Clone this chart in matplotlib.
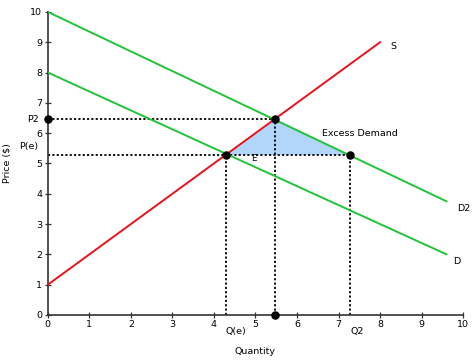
import matplotlib.pyplot as plt

# curve endpoints (quantity, price)
supply_q = [0, 8.0]
supply_p = [1.0, 9.0]
demand_q = [0, 9.6]
demand_p = [8.0, 2.0]
demand2_q = [0, 9.6]
demand2_p = [10.0, 3.75]

# key points
q_e, p_e = 4.3, 5.28
q_new, p_new = 5.48, 6.46
q2 = 7.28

x_ticks = list(range(0, 11))
y_ticks = list(range(0, 11))

GREEN = "#22c33a"
RED = "#e8121c"
FILL = "#b2d6fa"
AXIS = "#333333"
FS = 6.8

fig = plt.figure(figsize=(4.74, 3.62), dpi=100)
ax = fig.add_axes([0.101, 0.130, 0.876, 0.837])

ax.plot(demand2_q, demand2_p, color=GREEN, lw=1.4, zorder=3)
ax.plot(demand_q, demand_p, color=GREEN, lw=1.4, zorder=3)
ax.plot(supply_q, supply_p, color=RED, lw=1.4, zorder=4)

ax.fill([q_e, q_new, q2], [p_e, p_new, p_e], color=FILL, zorder=1, lw=0)

dot = dict(color="black", ls=(0, (1.2, 1.2)), lw=1.3, zorder=2)
ax.plot([0, q_new], [p_new, p_new], **dot)
ax.plot([0, q2], [p_e, p_e], **dot)
ax.plot([q_e, q_e], [0, p_e], **dot)
ax.plot([q_new, q_new], [0, p_new], **dot)
ax.plot([q2, q2], [0, p_e], **dot)

ax.scatter([q_e, q_new, q2, 0, q_new], [p_e, p_new, p_e, p_new, 0],
           s=26, color="black", zorder=6, clip_on=False)

ax.text(8.25, 8.85, "S", fontsize=FS, ha="left", va="center")
ax.text(9.85, 3.5, "D2", fontsize=FS, ha="left", va="center")
ax.text(9.75, 1.75, "D", fontsize=FS, ha="left", va="center")
ax.text(6.6, 6.0, "Excess Demand", fontsize=FS, ha="left", va="center")
ax.text(4.95, 5.15, "E", fontsize=6.2, ha="center", va="center")

ax.text(-0.22, p_new, "P2", fontsize=FS, ha="right", va="center")
ax.text(-0.22, p_e + 0.12, "P(e)", fontsize=FS, ha="right", va="bottom")
ax.text(q_e + 0.22, -0.4, "Q(e)", fontsize=FS, ha="center", va="top")
ax.text(q2 + 0.17, -0.4, "Q2", fontsize=FS, ha="center", va="top")

ax.set_xlim(0, 10)
ax.set_ylim(0, 10)
ax.set_xticks(x_ticks)
ax.set_yticks(y_ticks)
ax.tick_params(direction="inout", length=5, width=0.9, color=AXIS, labelsize=FS, pad=1.5)
for side in ("top", "right"):
    ax.spines[side].set_visible(False)
for side in ("left", "bottom"):
    ax.spines[side].set_color(AXIS)
    ax.spines[side].set_linewidth(1.2)

ax.set_xlabel("Quantity", fontsize=FS)
ax.set_ylabel("Price ($)", fontsize=FS)
ax.xaxis.set_label_coords(0.5, -0.105)
ax.yaxis.set_label_coords(-0.087, 0.5)

fig.savefig("out.png", dpi=100)
